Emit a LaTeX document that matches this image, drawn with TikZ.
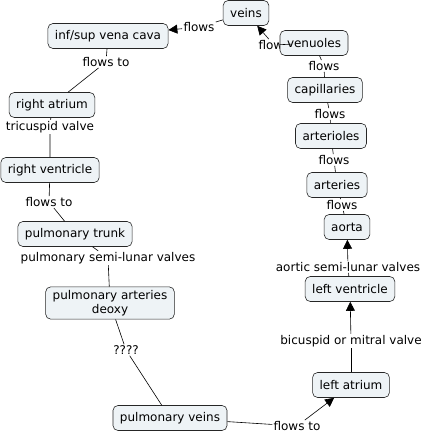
\documentclass[tikz,border=0pt]{standalone}
\usepackage{fontspec}
\setmainfont{DejaVu Sans}
\usetikzlibrary{arrows.meta}
\definecolor{boxfill}{HTML}{EEF3F6}

\begin{document}
\begin{tikzpicture}[x=1pt, y=-1pt, >={Triangle[length=9pt,width=9pt]}, line width=0.6pt,
    concept/.style={draw=black!85, fill=boxfill, rounded corners=5pt, minimum height=25pt,
        inner xsep=7pt, align=center, font=\fontsize{12}{14}\selectfont},
    linkword/.style={inner sep=1pt, font=\fontsize{12}{14}\selectfont}]
    \useasboundingbox (0,0) rectangle (426,436);

    % Linking words
    \node[linkword] (flA) at (199,27) {flows};
    \node[linkword] (flB) at (274,45) {flows};
    \node[linkword] (flC) at (324,66) {flows};
    \node[linkword] (flD) at (330,114) {flows};
    \node[linkword] (flE) at (334,160) {flows};
    \node[linkword] (flF) at (342,205) {flows};
    \node[linkword] (aoval) at (348,267) {aortic semi-lunar valves};
    \node[linkword] (mival) at (351,341) {bicuspid or mitral valve};
    \node[linkword] (flG) at (297,426) {flows to};
    \node[linkword] (qq) at (126,350) {????};
    \node[linkword] (puval) at (108,258) {pulmonary semi-lunar valves};
    \node[linkword] (flH) at (49,202) {flows to};
    \node[linkword] (trval) at (50,127) {tricuspid valve};
    \node[linkword] (flI) at (106,62) {flows to};

    % Concepts
    \node[concept] (veins) at (246,13) {veins};
    \node[concept] (cava) at (108,36) {inf/sup vena cava};
    \node[concept] (venuoles) at (314,43) {venuoles};
    \node[concept] (capil) at (325,90) {capillaries};
    \node[concept] (arteriol) at (331,136) {arterioles};
    \node[concept] (arteries) at (337,185) {arteries};
    \node[concept] (aorta) at (347,227) {aorta};
    \node[concept] (lventr) at (350,289) {left ventricle};
    \node[concept] (latr) at (351,385) {left atrium};
    \node[concept] (pveins) at (170,418) {pulmonary veins};
    \node[concept] (parter) at (110,303) {pulmonary arteries\\deoxy};
    \node[concept] (ptrunk) at (75,234) {pulmonary trunk};
    \node[concept] (rventr) at (50,170) {right ventricle};
    \node[concept] (ratr) at (52,105) {right atrium};

    % Links
    \draw (veins) -- (flA);
    \draw[->] (flA) -- (cava);
    \draw (venuoles) -- (flB);
    \draw[->] (flB) -- (veins);
    \draw (capil) -- (flC) -- (venuoles);
    \draw (arteriol) -- (flD) -- (capil);
    \draw (arteries) -- (flE) -- (arteriol);
    \draw (aorta) -- (flF) -- (arteries);
    \draw (lventr) -- (aoval);
    \draw[->] (aoval) -- (aorta);
    \draw (latr) -- (mival);
    \draw[->] (mival) -- (lventr);
    \draw (pveins) -- (flG);
    \draw[->] (flG) -- (latr);
    \draw (parter) -- (qq) -- (pveins);
    \draw (ptrunk) -- (puval) -- (parter);
    \draw (rventr) -- (flH) -- (ptrunk);
    \draw (ratr) -- (trval) -- (rventr);
    \draw (cava) -- (flI) -- (ratr);
\end{tikzpicture}
\end{document}
